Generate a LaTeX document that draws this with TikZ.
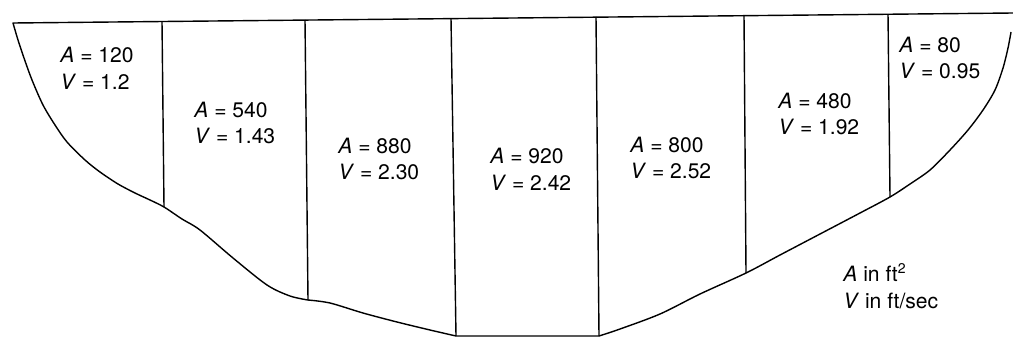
\documentclass[tikz,border=0pt]{standalone}
\usepackage{fontspec}
\setmainfont{TeX Gyre Heros}
\tikzset{
  bedline/.style={line width=0.8pt, line join=round},
  divline/.style={line width=0.8pt},
  sectlabel/.style={align=left, anchor=west, inner sep=0pt, font=\fontsize{12}{15.3}\selectfont}
}

\begin{document}
\begin{tikzpicture}[x=0.02cm, y=-0.02cm]
\useasboundingbox (0,0) rectangle (1013,338);
\coordinate (lbank) at (13,23);
\coordinate (rtop) at (1013,13);
\coordinate (t1) at (162,21.5);  \coordinate (b1) at (164,207);
\coordinate (t2) at (305,20);    \coordinate (b2) at (308,300);
\coordinate (t3) at (451,18.5);  \coordinate (b3) at (456,336);
\coordinate (t4) at (596,17);    \coordinate (b4) at (599,336);
\coordinate (t5) at (744,15.7);  \coordinate (b5) at (746,273);
\coordinate (t6) at (888,14.2);  \coordinate (b6) at (890,197);
\draw[bedline] (rtop) -- (lbank) -- plot[smooth, tension=0.5] coordinates {
  (13,23) (18,40) (24,58) (32,80) (43,105) (55,125) (67,142) (85,160)
  (100,172) (118,184) (135,193) (150,200) (164,207) (182,219) (200,230)
  (233,258) (267,285) (290,296) (308,300)}
  -- plot[smooth, tension=0.5] coordinates {(308,300) (330,303) (363,313)
  (397,322) (430,330) (456,336)}
  -- (b4) -- plot[smooth, tension=0.5] coordinates {
  (599,336) (620,329) (660,314) (700,294) (746,273)
  (780,255) (820,234) (860,213) (890,197) (910,184) (930,170) (950,150)
  (968,130) (983,110) (995,90) (1003,68) (1008,48) (1011,32)};
\draw[divline] (t1) -- (b1);
\draw[divline] (t2) -- (b2);
\draw[divline] (t3) -- (b3);
\draw[divline] (t4) -- (b4);
\draw[divline] (t5) -- (b5);
\draw[divline] (t6) -- (b6);
\node[sectlabel] (sec1) at (60,68) {\textit{A} = 120\\\textit{V} = 1.2};
\node[sectlabel] (sec2) at (194,123) {\textit{A} = 540\\\textit{V} = 1.43};
\node[sectlabel] (sec3) at (338,159) {\textit{A} = 880\\\textit{V} = 2.30};
\node[sectlabel] (sec4) at (490,169) {\textit{A} = 920\\\textit{V} = 2.42};
\node[sectlabel] (sec5) at (630,158) {\textit{A} = 800\\\textit{V} = 2.52};
\node[sectlabel] (sec6) at (778,114) {\textit{A} = 480\\\textit{V} = 1.92};
\node[sectlabel] (sec7) at (899,58) {\textit{A} = 80\\\textit{V} = 0.95};
\node[sectlabel] (units) at (843,286) {\textit{A} in ft\textsuperscript{2}\\\textit{V} in ft/sec};
\end{tikzpicture}
\end{document}
